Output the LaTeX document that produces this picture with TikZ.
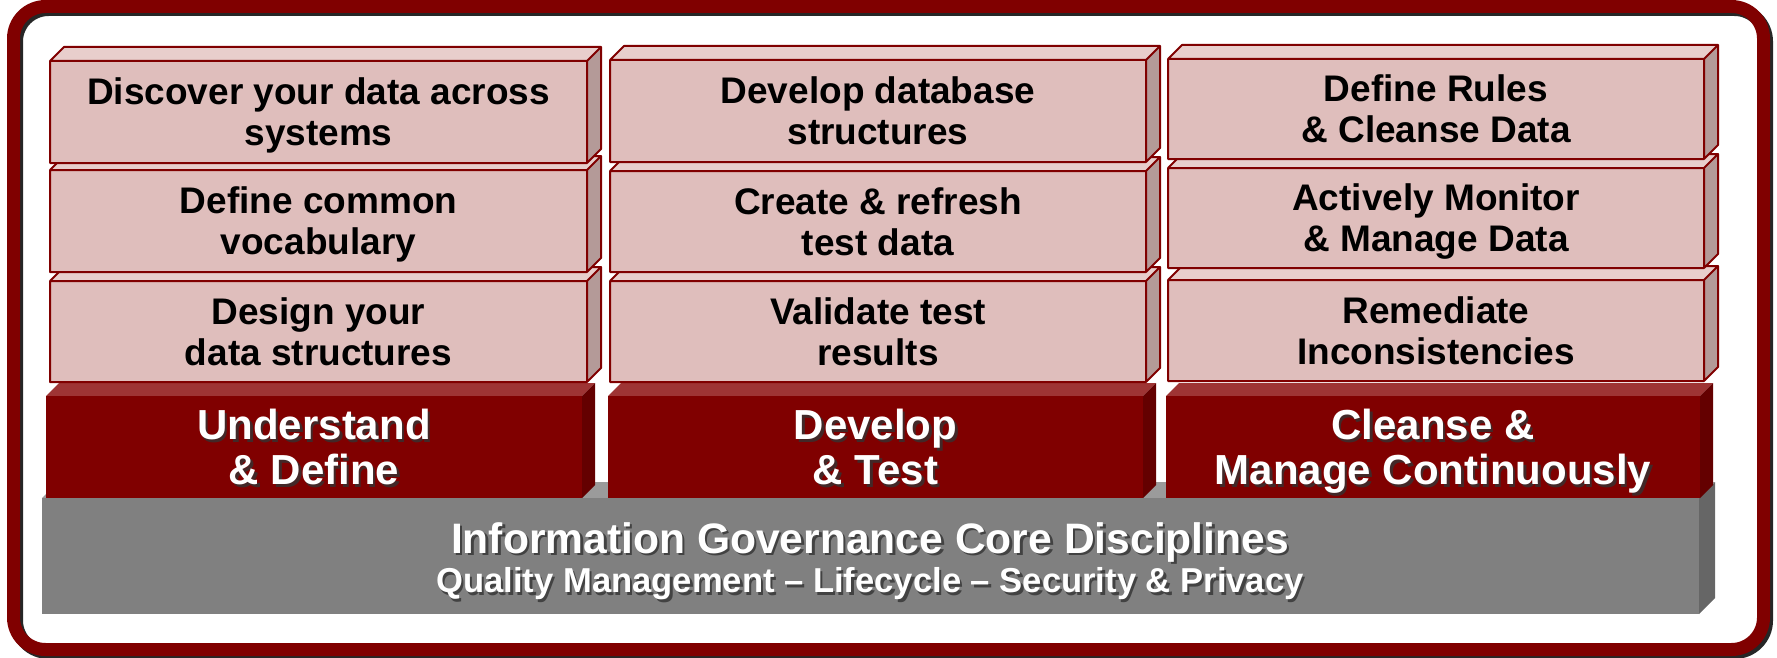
\documentclass[tikz,border=0pt]{standalone}
\usepackage{fontspec}
\setmainfont{Liberation Sans}
\definecolor{frameRed}{RGB}{128,0,0}
\definecolor{pinkFront}{RGB}{223,190,188}
\definecolor{pinkTop}{RGB}{232,206,204}
\definecolor{pinkSide}{RGB}{180,154,152}
\definecolor{drFront}{RGB}{128,0,0}
\definecolor{drTop}{RGB}{158,52,52}
\definecolor{drSide}{RGB}{100,0,0}
\definecolor{gFront}{RGB}{128,128,128}
\definecolor{gTop}{RGB}{155,155,155}
\definecolor{gSide}{RGB}{102,102,102}
\tikzset{
  pinktext/.style={font=\bfseries\fontsize{37}{41}\selectfont, align=center, text=black, text depth=0pt},
  redtext/.style={font=\bfseries\fontsize{42}{45}\selectfont, align=center, text depth=0pt},
  titletext/.style={font=\bfseries\fontsize{42.6}{45}\selectfont, align=center},
  subtext/.style={font=\bfseries\fontsize{34.6}{36}\selectfont, align=center},
}
% box: #1 name, #2 x1, #3 y1, #4 x2, #5 y2, #6 depth, #7 front, #8 top, #9 side
\newcommand\myBox[9]{%
  \fill[#8] (#2,#3) -- ++(#6,-#6) -- (#4+#6,#3-#6) -- (#4,#3) -- cycle;
  \fill[#9] (#4,#3) -- (#4+#6,#3-#6) -- (#4+#6,#5-#6) -- (#4,#5) -- cycle;
  \fill[#7] (#2,#3) rectangle (#4,#5);
  \coordinate (#1) at ({(#2+#4)/2},{(#3+#5)/2});
}
\newcommand\myEdges[5]{%
  \draw[frameRed, line width=2pt, line join=round] (#1,#2) rectangle (#3,#4)
     (#1,#2) -- ++(#5,-#5) -- (#3+#5,#2-#5) -- (#3,#2)
     (#3+#5,#2-#5) -- (#3+#5,#4-#5) -- (#3,#4);
}
\newcommand\pinkRow[5]{% name x1 y1 x2 y2
  \myBox{#1}{#2}{#3}{#4}{#5}{14}{pinkFront}{pinkTop}{pinkSide}
  \myEdges{#2}{#3}{#4}{#5}{14}
}
\begin{document}
\begin{tikzpicture}[x=1pt,y=-1pt]
\useasboundingbox (0,0) rectangle (1777,658);
% outer frame
\draw[black!85, line width=13pt, rounded corners=32pt] (16.5,9.5) rectangle (1766.5,652.5);
\draw[frameRed, line width=13pt, rounded corners=32pt] (13.5,6.5) rectangle (1763.5,649.5);
% gray base
\myBox{base}{42}{498}{1699}{614}{16}{gFront}{gTop}{gSide}
% dark red boxes
\myBox{d1}{46}{396}{582}{498}{13}{drFront}{drTop}{drSide}
\myBox{d2}{608}{396}{1143}{498}{13}{drFront}{drTop}{drSide}
\myBox{d3}{1166}{396}{1700}{498}{13}{drFront}{drTop}{drSide}
% pink boxes, bottom rows first
\pinkRow{p13}{50}{281}{587}{382}
\pinkRow{p23}{610}{281}{1146}{382}
\pinkRow{p33}{1168}{280}{1704}{381}
\pinkRow{p12}{50}{170}{587}{272}
\pinkRow{p22}{610}{171}{1146}{272}
\pinkRow{p32}{1168}{168}{1704}{268}
\pinkRow{p11}{50}{61}{587}{163}
\pinkRow{p21}{610}{60}{1146}{162}
\pinkRow{p31}{1168}{59}{1704}{159}
% pink texts
\node[pinktext] (tp11) at (p11) {Discover your data across\\systems};
\node[pinktext] (tp12) at (p12) {Define common\\vocabulary};
\node[pinktext] (tp13) at (p13) {Design your\\data structures};
\node[pinktext] (tp21) at (p21) {Develop database\\structures};
\node[pinktext] (tp22) at (p22) {Create \& refresh\\test data};
\node[pinktext] (tp23) at (p23) {Validate test\\results};
\node[pinktext] (tp31) at (p31) {Define Rules\\\& Cleanse Data};
\node[pinktext] (tp32) at (p32) {Actively Monitor\\\& Manage Data};
\node[pinktext] (tp33) at (p33) {Remediate\\Inconsistencies};
% dark red texts with shadow
\foreach \n/\t in {d1/{Understand\\\& Define}, d2/{Develop\\\& Test}, d3/{Cleanse \&\\Manage Continuously}}{
  \node[redtext, text=black!80, opacity=0.8] (\n s) at ([shift={(2.5,2.5)}]\n) {\t};
  \node[redtext, text=white] (\n t) at (\n) {\t};
}
% base texts
\coordinate (bt) at (870,542);
\coordinate (bs) at (870,584);
\node[titletext, text=black!80, opacity=0.8] (bts) at ([shift={(2.5,2.5)}]bt) {Information Governance Core Disciplines};
\node[titletext, text=white] (btt) at (bt) {Information Governance Core Disciplines};
\node[subtext, text=black!80, opacity=0.8] (bss) at ([shift={(2.5,2.5)}]bs) {Quality Management – Lifecycle – Security \& Privacy};
\node[subtext, text=white] (bst) at (bs) {Quality Management – Lifecycle – Security \& Privacy};
\end{tikzpicture}
\end{document}
